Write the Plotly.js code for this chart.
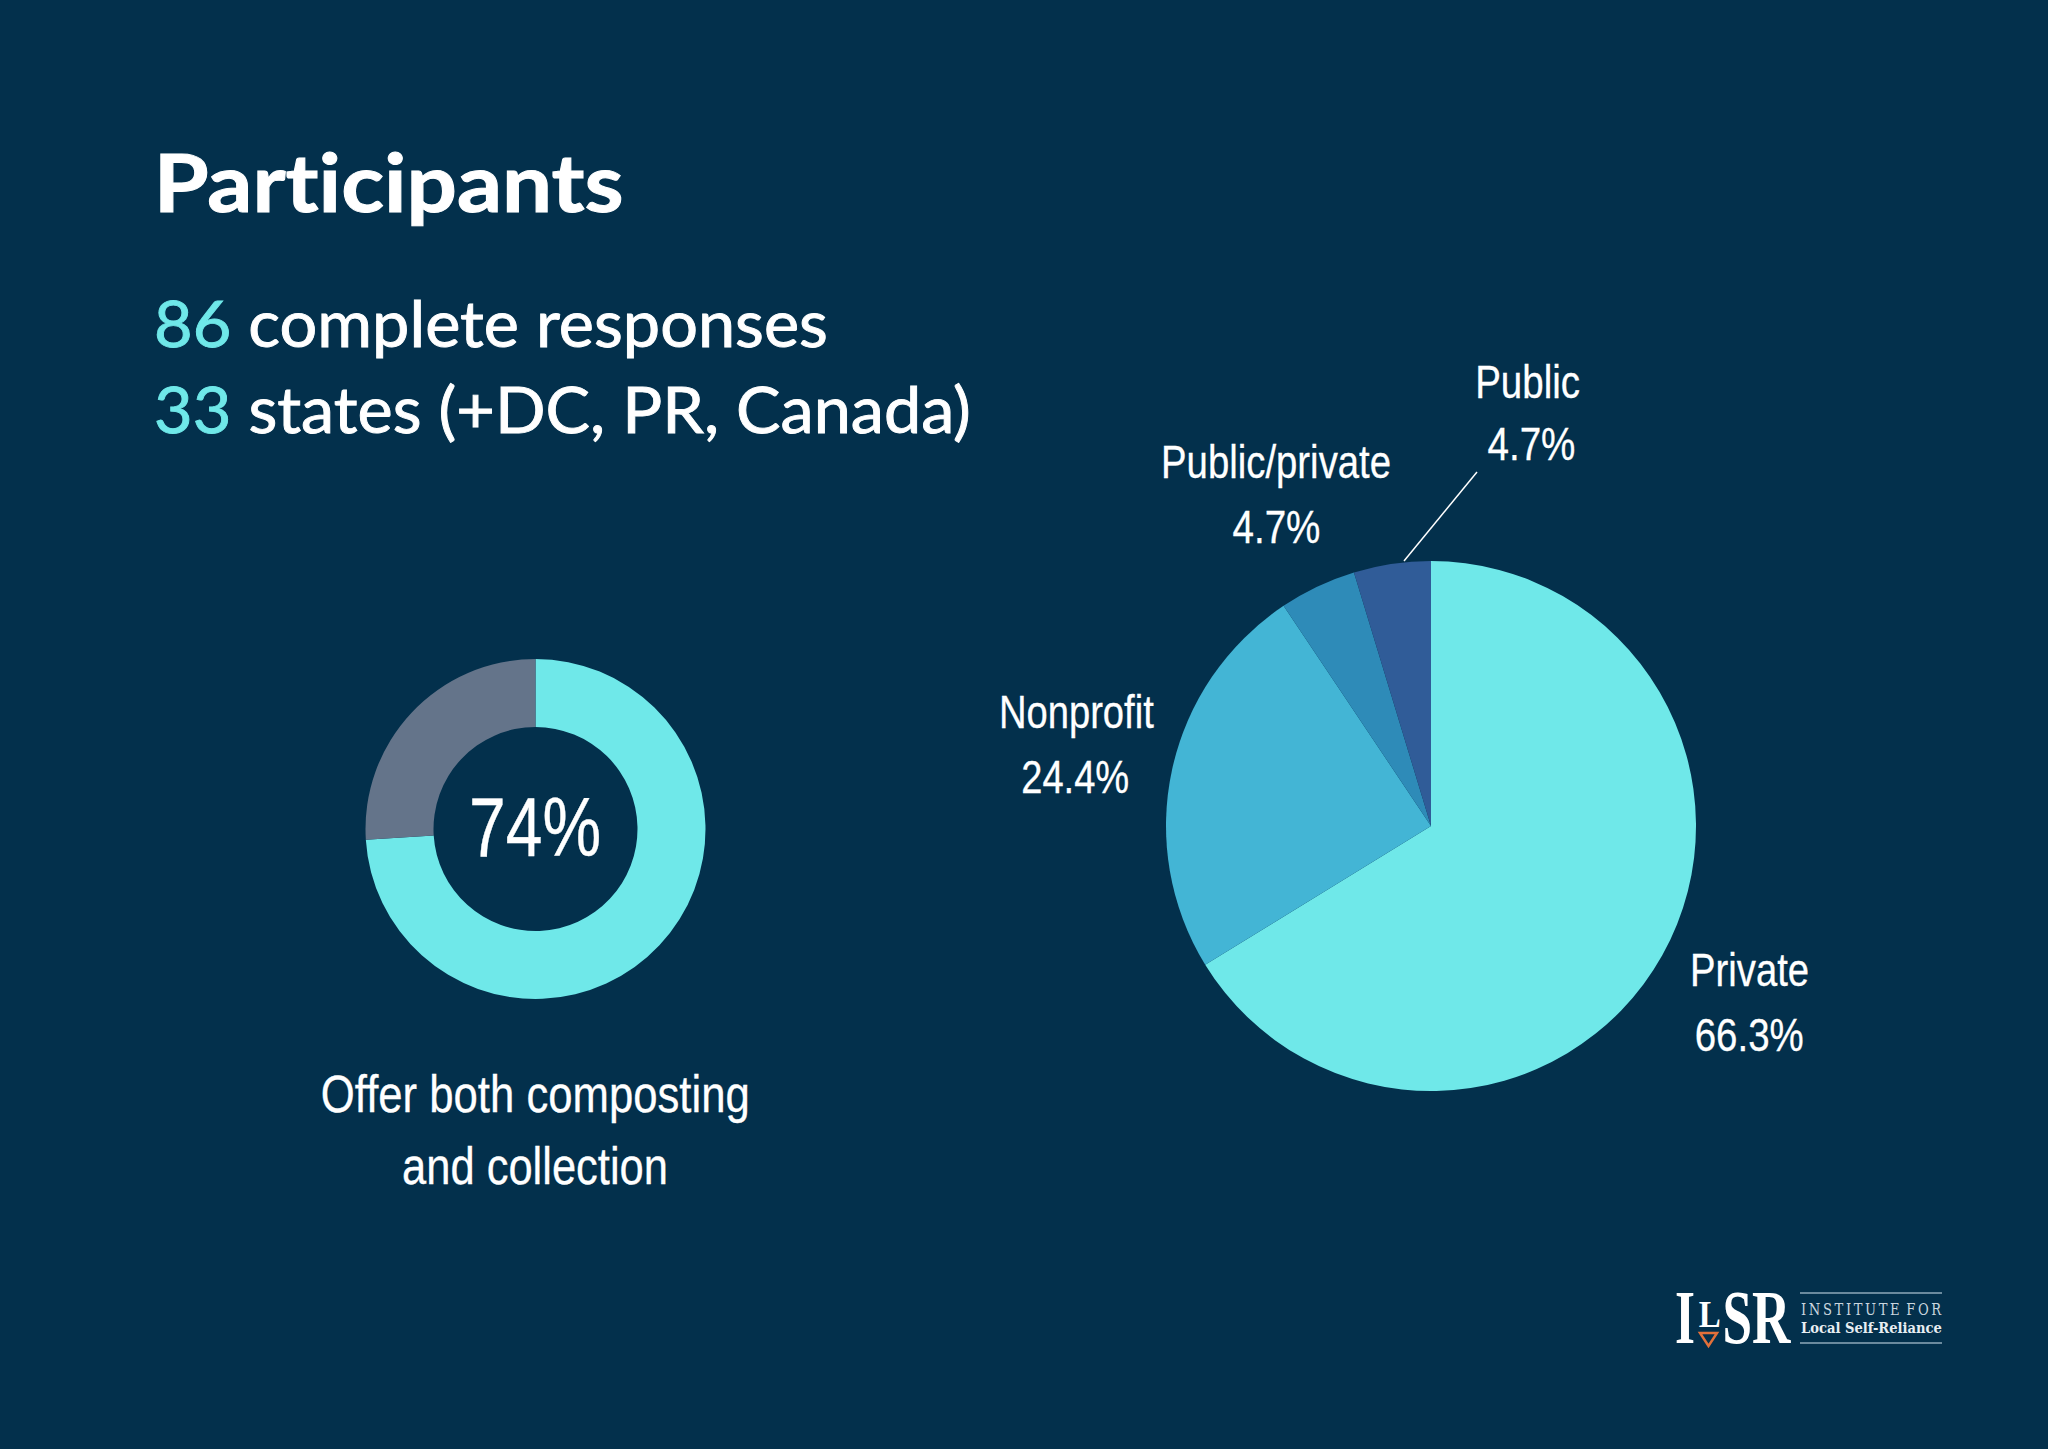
<!DOCTYPE html>
<html><head><meta charset="utf-8">
<script src="https://cdn.plot.ly/plotly-3.0.1.min.js"></script>
<style>html,body{margin:0;padding:0;background:#03304C}#c{width:2048px;height:1449px}
.annotation text{font-variant-ligatures:none;font-feature-settings:"liga" 0}</style>
</head><body><div id="c"></div>
<script>
const pieLabels = ["Private","Nonprofit","Public/private","Public"];
const pieValues = [66.3,24.4,4.7,4.7];
const pieColors = ["#6FE8E9","#43B5D5","#2E8BB8","#305C98"];
const donutLabels = ["Offer both","Other"];
const donutValues = [74,26];
const donutColors = ["#6FE8E9","#64748A"];
const W=2048,H=1449;
const BG="#03304C", CY="#6FE8E9";
const SANS='"Liberation Sans",sans-serif';
const LATO='Lato,"Open Sans",sans-serif';
const SERIF='"Liberation Serif","DejaVu Serif",serif';
const px=x=>x/W, py=y=>1-y/H;
function dom(cx,cy,r){return {x:[px(cx-r),px(cx+r)],y:[py(cy+r),py(cy-r)]};}
// fit: width in px each text is condensed or stretched to; bold: stroke thickness
const fits=[];
function t(x,y,text,size,font,opt){opt=opt||{};fits.push({w:opt.w,sw:opt.sw||0,left:opt.anchor==='left'});
 return {xref:'paper',yref:'paper',x:px(x),y:py(y),text,showarrow:false,xanchor:opt.anchor||'center',yanchor:'middle',
  font:{size,family:font,color:opt.color||'#fff'},borderpad:0};}
const L={sw:0.3};
const annotations=[
 t(152,181,"<b>Participants</b>",81,LATO,{anchor:'left',w:470,sw:1}),
 t(153,322,`<span style="color:${CY}">86</span> complete responses`,63,LATO,{anchor:'left',w:674,sw:0.9}),
 t(153,409,`<span style="color:${CY}">33</span> states (+DC, PR, Canada)`,63,LATO,{anchor:'left',w:817,sw:0.9}),
 t(535,827,donutValues[0]+"%",84,SANS,{w:132,sw:0.4}),
 t(535,1094,"Offer both composting",52,SANS,{w:429,sw:0.3}),
 t(535,1166,"and collection",52,SANS,{w:266,sw:0.3}),
 t(1749,970,pieLabels[0],46,SANS,{w:119,sw:0.3}), t(1749,1035,pieValues[0]+"%",46,SANS,{w:109,sw:0.3}),
 t(1076,712,pieLabels[1],46,SANS,{w:155,sw:0.3}), t(1075,777,pieValues[1]+"%",46,SANS,{w:108,sw:0.3}),
 t(1276,462,pieLabels[2],46,SANS,{w:230,sw:0.3}), t(1276,527,pieValues[2]+"%",46,SANS,{w:88,sw:0.3}),
 t(1527,382,pieLabels[3],46,SANS,{w:105,sw:0.3}), t(1531,444,pieValues[3]+"%",46,SANS,{w:88,sw:0.3}),
 t(1685,1317,"<b>I</b>",77,SERIF,{w:20}),
 t(1709,1314,"<b>L</b>",38,SERIF,{w:22}),
 t(1757,1317,"<b>SR</b>",77,SERIF,{w:69}),
 t(1800,1309,"I\u2009N\u2009S\u2009T\u2009I\u2009T\u2009U\u2009T\u2009E\u2002F\u2009O\u2009R",16,'"DejaVu Serif",serif',{anchor:'left',w:141,color:'#C9D6DF'}),
 t(1800,1328,"<b>Local Self-Reliance</b>",14,'"DejaVu Serif",serif',{anchor:'left',w:141,color:'#E8EEF2'})
];
const line=(x0,y0,x1,y1,color,width)=>({type:'line',xref:'paper',yref:'paper',x0:px(x0),y0:py(y0),x1:px(x1),y1:py(y1),line:{color,width}});
const shapes=[
 line(1477,472,1404,561,'#fff',1.5),
 line(1800,1293,1942,1293,'#8FA9BA',1.5),
 line(1800,1343,1942,1343,'#8FA9BA',1.5),
 {type:'path',xref:'paper',yref:'paper',
  path:`M ${px(1700)} ${py(1333)} L ${px(1717)} ${py(1333)} L ${px(1708.5)} ${py(1346)} Z`,
  line:{color:'#E2703A',width:2.5},fillcolor:BG}
];
const common={type:'pie',sort:false,direction:'clockwise',rotation:0,textinfo:'none',hoverinfo:'label+percent',showlegend:false};
Plotly.newPlot('c',[
 Object.assign({},common,{labels:pieLabels,values:pieValues,marker:{colors:pieColors,line:{width:0}},domain:dom(1431,826,265)}),
 Object.assign({},common,{labels:donutLabels,values:donutValues,hole:0.6,marker:{colors:donutColors,line:{width:0}},domain:dom(535.5,829,170)})
],{width:W,height:H,margin:{l:0,r:0,t:0,b:0},paper_bgcolor:BG,plot_bgcolor:BG,annotations,shapes,showlegend:false},{displayModeBar:false,staticPlot:true}).then(()=>{
 document.querySelectorAll('#c .annotation').forEach(g=>{
  const f=fits[+g.getAttribute('data-index')], el=g.querySelector('text');
  if(!f||!el) return;
  const bb=el.getBBox(), x0=f.left?bb.x:bb.x+bb.width/2, s=f.w/bb.width;
  el.setAttribute('transform',`translate(${x0},0) scale(${s},1) translate(${-x0},0)`);
  if(f.sw){[el,...el.querySelectorAll('tspan')].forEach(n=>{const c=getComputedStyle(n).fill;n.style.stroke=c;n.style.strokeWidth=f.sw+'px';});}
 });
});
</script></body></html>
